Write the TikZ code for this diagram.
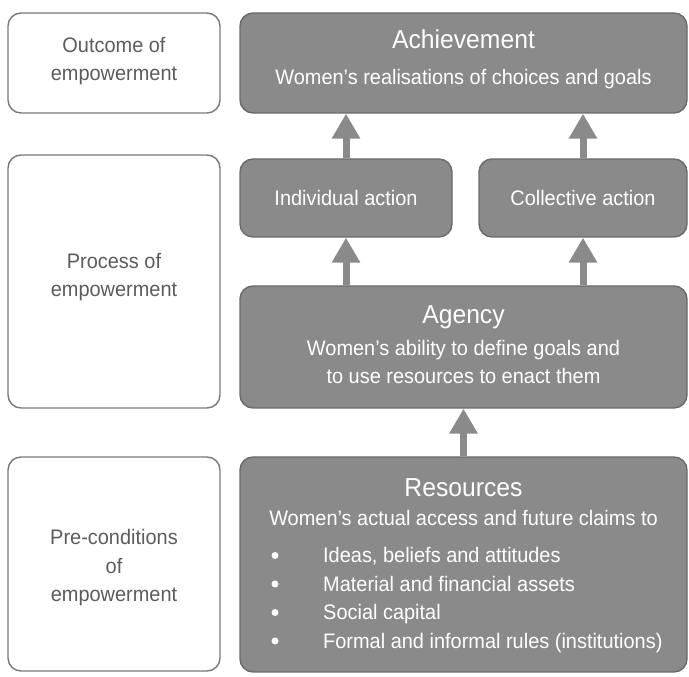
\documentclass[tikz,border=0pt]{standalone}
\usepackage{fontspec}
\setmainfont{Liberation Sans}[FakeStretch=0.95]
\usepackage{tikz}
\usetikzlibrary{arrows.meta,positioning}
\definecolor{EmpGrey}{HTML}{8A8A8A}
\definecolor{EmpEdge}{HTML}{6A6A6A}
\definecolor{EmpText}{HTML}{5C5C5C}
\newcommand{\headfont}{\fontsize{26}{30}\selectfont}
\newcommand{\bodyfont}{\fontsize{21}{28.5}\selectfont}
\tikzset{
  greybox/.style={draw=EmpEdge,line width=1.4pt,fill=EmpGrey,rounded corners=13pt,inner sep=0pt},
  levelbox/.style={draw=EmpEdge!90,line width=1.4pt,fill=white,rounded corners=13pt,inner sep=0pt,minimum width=212pt},
  leveltext/.style={text=EmpText,align=center,font=\bodyfont,inner sep=0pt},
  headtext/.style={text=white,font=\headfont,inner sep=0pt},
  bodytext/.style={text=white,align=center,font=\bodyfont,inner sep=0pt},
  bullettext/.style={text=white,font=\bodyfont,inner sep=0pt,anchor=west,text height=15pt,text depth=4pt},
  uparrow/.style={-{Triangle[width=27pt,length=25pt]},line width=7pt,draw=EmpGrey}
}
\begin{document}
\begin{tikzpicture}[x=1pt,y=1pt]
\useasboundingbox (0,0) rectangle (689,677);
% left column: levels
\node[levelbox,minimum height=100pt] (outc) at (114,614) {};
\node[levelbox,minimum height=253pt] (proc) at (114,395.5) {};
\node[levelbox,minimum height=214pt] (pre) at (114,113) {};
\node[leveltext] (outctext) at (114,616) {Outcome of\\empowerment};
\node[leveltext] (proctext) at (114,400) {Process of\\empowerment};
\node[leveltext] (pretext) at (114,109) {Pre-conditions\\of\\empowerment};
% right column
\node[greybox,minimum width=447pt,minimum height=100pt] (achv) at (463.5,614) {};
\node[greybox,minimum width=212pt,minimum height=78pt] (indiv) at (346,479) {};
\node[greybox,minimum width=208pt,minimum height=78pt] (coll) at (583,479) {};
\node[greybox,minimum width=447pt,minimum height=122pt] (agency) at (463.5,330) {};
\node[greybox,minimum width=447pt,minimum height=215pt] (res) at (463.5,112.5) {};
\node[headtext] (achvhead) at (463.5,638) {Achievement};
\node[bodytext] (achvbody) at (463.5,598) {Women’s realisations of choices and goals};
\node[bodytext] (indivtext) at (indiv) {Individual action};
\node[bodytext] (colltext) at (coll) {Collective action};
\node[headtext] (agencyhead) at (463.5,360) {Agency};
\node[bodytext] (agencybody) at (463.5,315) {Women’s ability to define goals and\\to use resources to enact them};
\node[headtext] (reshead) at (463.5,189) {Resources};
\node[bodytext] (resbody) at (463.5,159) {Women’s actual access and future claims to};
\foreach \txt [count=\i] in {{Ideas, beliefs and attitudes},{Material and financial assets},{Social capital},{Formal and informal rules (institutions)}}{
  \fill[white] (275,150-28.5*\i) circle (3.5pt);
  \node[bullettext] (resitem\i) at (323,148-28.5*\i) {\txt};
}
% arrows
\draw[uparrow] (indiv.north) -- (indiv.north |- achv.south);
\draw[uparrow] (coll.north) -- (coll.north |- achv.south);
\draw[uparrow] (agency.north -| indiv) -- (indiv.south);
\draw[uparrow] (agency.north -| coll) -- (coll.south);
\draw[uparrow] (res.north) -- (agency.south);
\end{tikzpicture}
\end{document}
